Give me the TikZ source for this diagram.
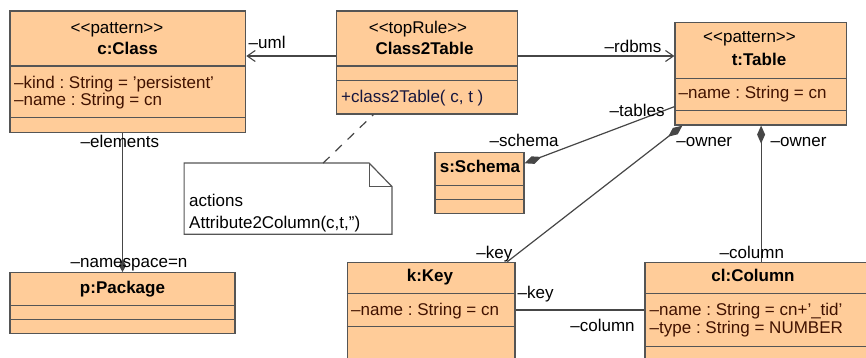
\documentclass[tikz,border=0pt]{standalone}
\usepackage{fontspec}
\setmainfont{Liberation Sans}
\usetikzlibrary{arrows.meta,calc}
\definecolor{peach}{RGB}{255,204,153}
\definecolor{boxline}{RGB}{85,85,85}
\definecolor{connline}{RGB}{70,70,70}
\definecolor{attrtext}{RGB}{65,18,0}
\definecolor{optext}{RGB}{22,22,62}
\frenchspacing
\tikzset{
  every node/.style={font=\fontsize{17}{20}\selectfont},
  umlbox/.style={draw=boxline, fill=peach, line width=1.2pt, inner sep=0pt},
  divider/.style={draw=boxline, line width=1.2pt},
  ctr/.style={inner sep=0pt, anchor=base},
  lft/.style={inner sep=0pt, anchor=base west},
  attr/.style={lft, text=attrtext},
  oper/.style={lft, text=optext},
  lbl/.style={inner sep=0pt, anchor=base west, text=black},
  conn/.style={draw=connline, line width=1.2pt},
  openhead/.style={-{Straight Barb[length=8pt,width=11pt,line width=1.1pt]}},
  compo/.style={{Diamond[length=18pt,width=8pt,fill=connline]}-},
  compoend/.style={-{Diamond[length=13pt,width=7pt,fill=connline]}},
  notebox/.style={draw=boxline, fill=white, line width=1.2pt},
}
\begin{document}
\begin{tikzpicture}[x=1pt,y=-1pt]
\path[use as bounding box, clip] (0,0) rectangle (866,358);

% ---------- boxes ----------
\node[umlbox, minimum width=235.7pt, minimum height=121.7pt] (cls) at (127.85,71.85) {};
\node[umlbox, minimum width=181pt, minimum height=103pt] (ct) at (427.2,62.5) {};
\node[umlbox, minimum width=171.7pt, minimum height=102.7pt] (tbl) at (760.85,73.65) {};
\node[umlbox, minimum width=89pt, minimum height=61pt] (sch) at (479.5,182.8) {};
\node[umlbox, minimum width=225pt, minimum height=60.6pt] (pkg) at (122.5,303) {};
\node[umlbox, minimum width=167.7pt, minimum height=120pt] (key) at (431.15,322.3) {};
\node[umlbox, minimum width=235pt, minimum height=120pt] (col) at (762.5,322.3) {};

% ---------- dividers ----------
\draw[divider] ($(cls.north west)+(0,55.7)$) -- ($(cls.north east)+(0,55.7)$);
\draw[divider] ($(cls.north west)+(0,107.3)$) -- ($(cls.north east)+(0,107.3)$);
\draw[divider] ($(ct.north west)+(0,55.7)$) -- ($(ct.north east)+(0,55.7)$);
\draw[divider] ($(ct.north west)+(0,70)$) -- ($(ct.north east)+(0,70)$);
\draw[divider] ($(tbl.north west)+(0,56.7)$) -- ($(tbl.north east)+(0,56.7)$);
\draw[divider] ($(tbl.north west)+(0,88.7)$) -- ($(tbl.north east)+(0,88.7)$);
\draw[divider] ($(sch.north west)+(0,33.4)$) -- ($(sch.north east)+(0,33.4)$);
\draw[divider] ($(sch.north west)+(0,47.7)$) -- ($(sch.north east)+(0,47.7)$);
\draw[divider] ($(pkg.north west)+(0,33.3)$) -- ($(pkg.north east)+(0,33.3)$);
\draw[divider] ($(pkg.north west)+(0,47.3)$) -- ($(pkg.north east)+(0,47.3)$);
\draw[divider] ($(key.north west)+(0,32)$) -- ($(key.north east)+(0,32)$);
\draw[divider] ($(key.north west)+(0,65)$) -- ($(key.north east)+(0,65)$);
\draw[divider] ($(col.north west)+(0,32)$) -- ($(col.north east)+(0,32)$);
\draw[divider] ($(col.north west)+(0,84.4)$) -- ($(col.north east)+(0,84.4)$);

% ---------- box texts ----------
\node[ctr] (clsst) at (117,34) {<{}<pattern>{}>};
\node[ctr] (clsnm) at (127.6,55) {\bfseries c:Class};
\node[attr] (clsa1) at (14,88.5) {–kind : String = ’persistent’};
\node[attr] (clsa2) at (14,106) {–name : String = cn};

\node[ctr] (ctst) at (418,34) {<{}<topRule>{}>};
\node[ctr] (ctnm) at (424.5,55) {\bfseries Class2Table};
\node[oper] (ctop) at (341,103) {+class2Table( c, t )};

\node[ctr] (tblst) at (749.5,42.3) {<{}<pattern>{}>};
\node[ctr] (tblnm) at (759,65.7) {\bfseries t:Table};
\node[attr] (tbla1) at (678.5,98.3) {–name : String = cn};

\node[ctr] (schnm) at (480,172.7) {\bfseries s:Schema};
\node[ctr] (pkgnm) at (122.5,293.3) {\bfseries p:Package};

\node[ctr] (keynm) at (430,281.7) {\bfseries k:Key};
\node[attr] (keya1) at (351,315) {–name : String = cn};

\node[ctr] (colnm) at (753,281.7) {\bfseries cl:Column};
\node[attr] (cola1) at (649.5,315) {–name : String = cn+’\_tid’};
\node[attr] (cola2) at (649.5,333.3) {–type : String = NUMBER};

% ---------- note ----------
\node[inner sep=0pt, minimum width=207.4pt, minimum height=70.7pt] (note) at (288,198.65) {};
\path[notebox] (note.north west) -- ($(note.north east)+(-22.7,0)$) -- ($(note.north east)+(0,23.4)$) -- (note.south east) -- (note.south west) -- cycle;
\draw[notebox, fill=none] ($(note.north east)+(-22.7,0)$) |- ($(note.north east)+(0,23.4)$);
\node[lft] (nt1) at (189,206.7) {actions};
\node[lft] (nt2) at (189,228.3) {Attribute2Column(c,t,”)};
\draw[conn, dash pattern=on 9pt off 8pt] ($(note.north west)+(139,0)$) -- ($(ct.south west)+(37.3,0)$);

% ---------- connectors ----------
\coordinate (umlA) at ($(ct.west)+(0,-6.5)$);
\draw[conn, openhead] (umlA) -- (umlA -| cls.east);
\coordinate (rdA) at ($(ct.east)+(0,-6.5)$);
\draw[conn, openhead] (rdA) -- (rdA -| tbl.west);

\coordinate (schA) at ($(sch.east)+(0,-19.5)$);
\coordinate (schB) at ($(tbl.west)+(0,33)$);
\draw[conn, compo] (schA) -- (schB);

\coordinate (ow1A) at ($(tbl.south west)+(8,0)$);
\coordinate (ow1B) at ($(key.north east)+(-8.3,0)$);
\draw[conn, compo] (ow1A) -- (ow1B);

\coordinate (ow2A) at ($(tbl.south west)+(86.7,0)$);
\draw[conn, compo] (ow2A) -- (ow2A |- col.north);

\coordinate (kcA) at ($(key.east)+(0,-12.3)$);
\draw[conn] (kcA) -- (kcA -| col.west);

\draw[conn, compoend] (cls.south -| pkg.north) -- (pkg.north);

% ---------- labels ----------
\node[lbl] (luml) at (248.5,48.3) {–uml};
\node[lbl] (lrd) at (604.5,52.3) {–rdbms};
\node[lbl] (ltab) at (609.5,116.7) {–tables};
\node[lbl] (lsch) at (489.5,146.7) {–schema};
\node[lbl] (low1) at (676.2,146.7) {–owner};
\node[lbl] (low2) at (770.5,146.7) {–owner};
\node[lbl] (lel) at (80.5,147.7) {–elements};
\node[lbl] (lns) at (70.5,267.3) {–namespace=n};
\node[lbl] (lk1) at (476.2,258.3) {–key};
\node[lbl] (lc1) at (719.5,258.3) {–column};
\node[lbl] (lk2) at (517.5,298.3) {–key};
\node[lbl] (lc2) at (570.2,331.7) {–column};
\end{tikzpicture}
\end{document}
